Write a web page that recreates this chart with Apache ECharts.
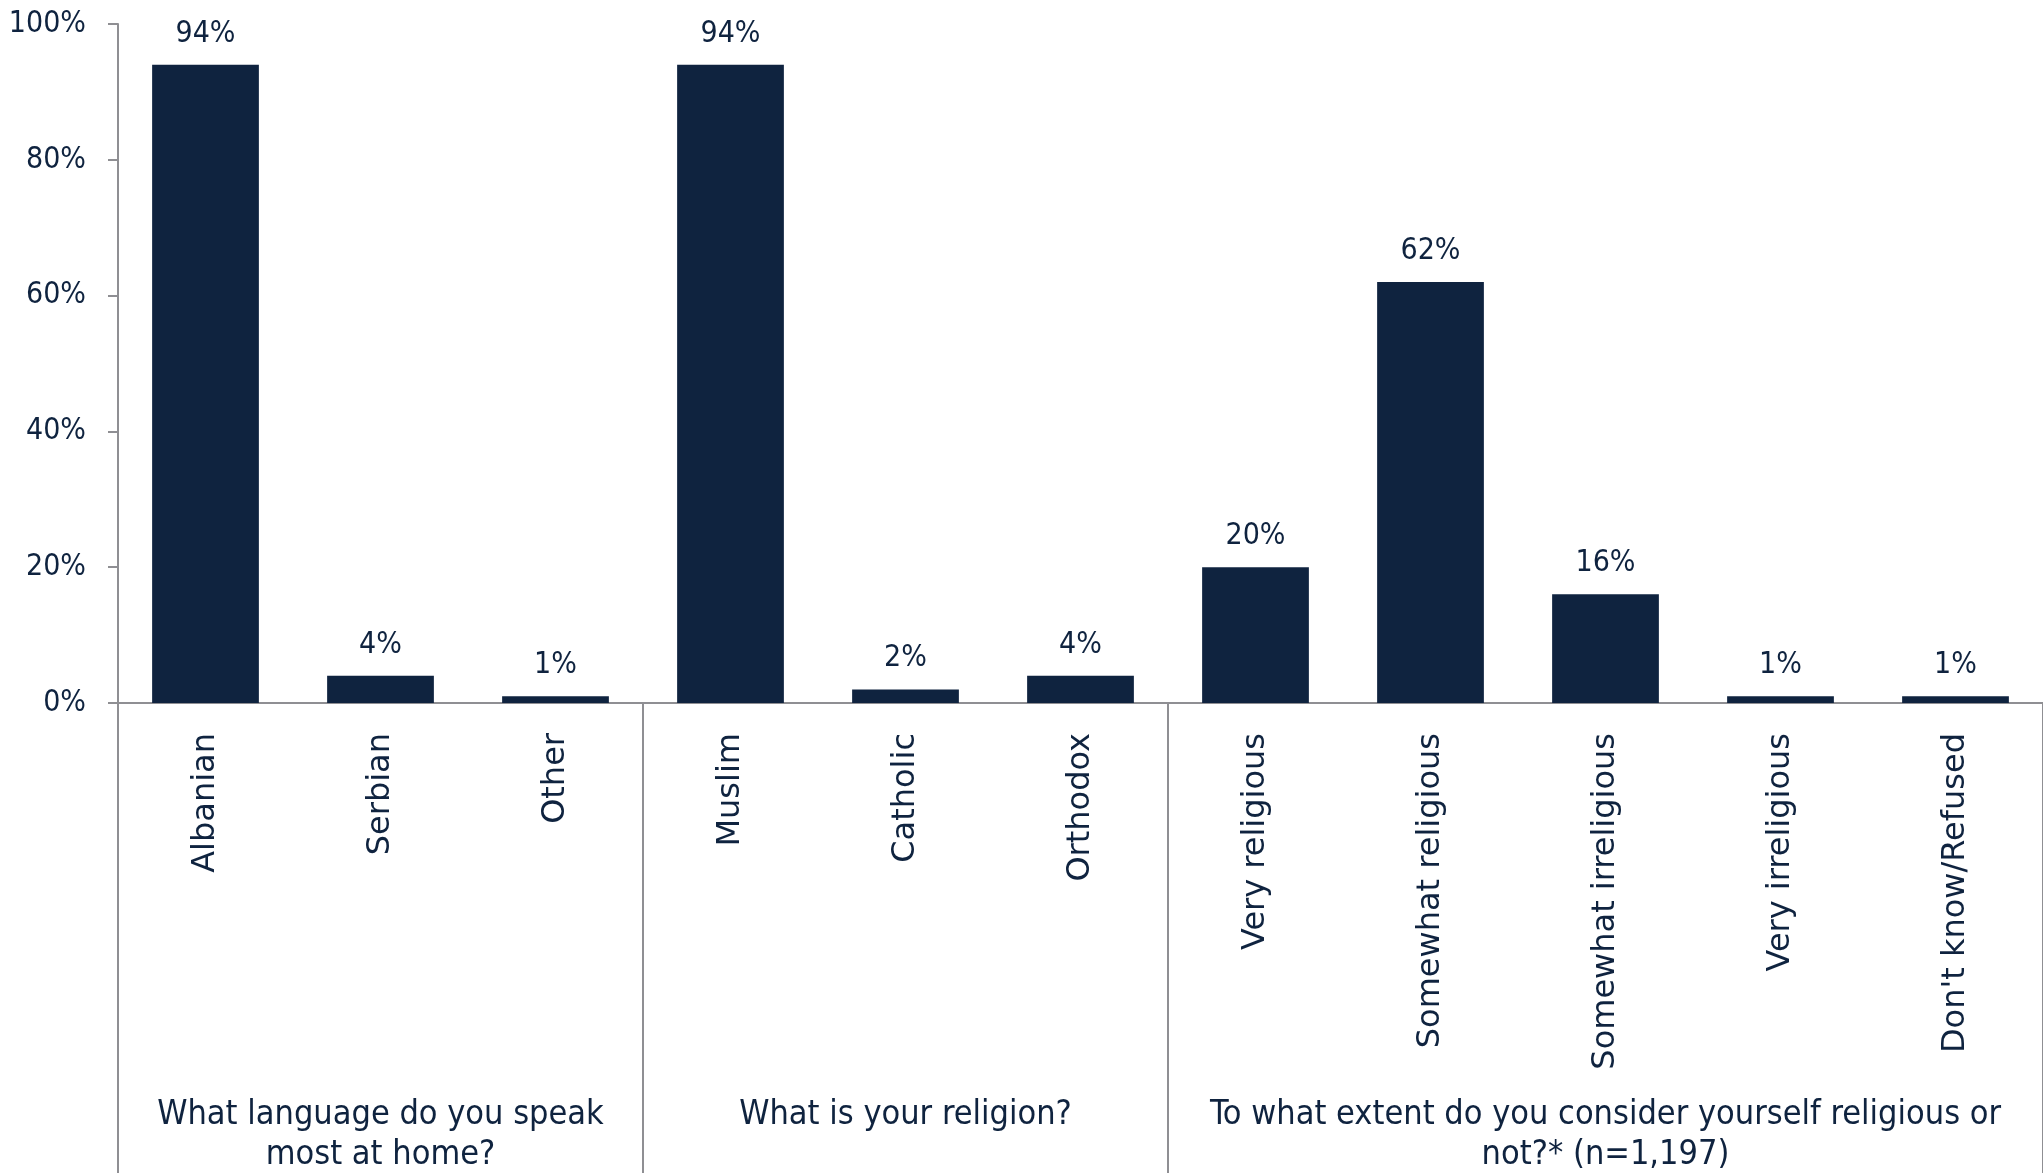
<!DOCTYPE html>
<html>
<head>
<meta charset="utf-8">
<script src="https://cdn.jsdelivr.net/npm/echarts@6/dist/echarts.min.js"></script>
<style>
html,body{margin:0;padding:0;background:#fff;}
#chart{width:2043px;height:1175px;}
</style>
</head>
<body>
<div id="chart"></div>
<script>
const categories = ['Albanian','Serbian','Other','Muslim','Catholic','Orthodox','Very religious','Somewhat religious','Somewhat irreligious','Very irreligious',"Don't know/Refused"];
const values = [94,4,1,94,2,4,20,62,16,1,1];
const groupLabels = ['What language do you speak\nmost at home?','What is your religion?','To what extent do you consider yourself religious or\nnot?* (n=1,197)'];
const groupSizes = [3,3,5];
const yTicks = [0,20,40,60,80,100];

const navy = '#0f233f';
const gray = '#8f8f93';
const condensed = '"DejaVu Sans Condensed","Liberation Sans Narrow","DejaVu Sans",sans-serif';

// group boundaries and centers (category indices)
const boundaries = [];
const centerLabel = {};
let start = 0;
groupSizes.forEach((n, g) => {
  boundaries.push(start);
  centerLabel[start + Math.floor(n / 2)] = groupLabels[g];
  start += n;
});

const chart = echarts.init(document.getElementById('chart'));
chart.setOption({
  animation: false,
  grid: {left: 118, right: 0, top: 24, bottom: 470, containLabel: false},
  xAxis: [{
    type: 'category',
    data: categories,
    position: 'bottom',
    axisLine: {show: true, lineStyle: {color: gray, width: 2}},
    axisTick: {show: true, interval: (i) => boundaries.includes(i), length: 470, lineStyle: {color: gray, width: 2}},
    axisLabel: {interval: 0, rotate: 90, margin: 30, color: navy, fontFamily: '"DejaVu Sans",sans-serif', fontSize: 32}
  }, {
    type: 'category',
    data: categories,
    position: 'bottom',
    axisLine: {show: false},
    axisTick: {show: false},
    axisLabel: {
      interval: 0, margin: 392, color: navy, fontFamily: condensed, fontSize: 34, lineHeight: 40, align: 'center',
      formatter: (v, i) => centerLabel[i] || ''
    }
  }],
  yAxis: {
    type: 'value', min: yTicks[0], max: yTicks[yTicks.length - 1], interval: 20,
    axisLine: {show: true, lineStyle: {color: gray, width: 2}},
    axisTick: {show: true, length: 10, lineStyle: {color: gray, width: 2}},
    splitLine: {show: false},
    axisLabel: {formatter: '{value}%', margin: 32, color: navy, fontFamily: condensed, fontSize: 30}
  },
  series: [{
    type: 'bar',
    data: values,
    xAxisIndex: 0,
    barWidth: '61%',
    itemStyle: {color: navy},
    label: {show: true, position: 'top', distance: 16, formatter: '{c}%', color: navy, fontFamily: condensed, fontSize: 30}
  }]
});
</script>
</body>
</html>
